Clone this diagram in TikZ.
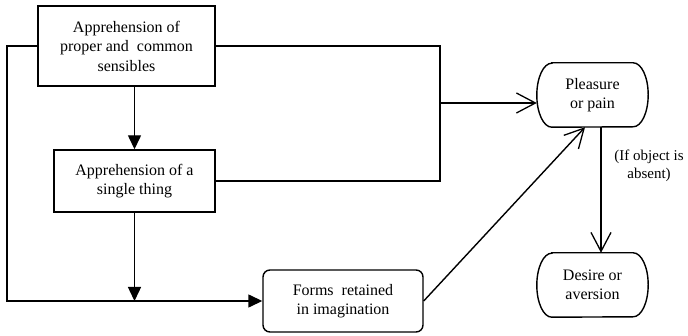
\documentclass[tikz,border=0pt]{standalone}
\usepackage{fontspec}
\setmainfont{Liberation Serif}
\usetikzlibrary{arrows.meta}
\begin{document}
\begin{tikzpicture}[x=1pt,y=-1pt,
  ln/.style={line width=1.4pt},
  box/.style={ln, draw, align=center, inner sep=0pt, font=\fontsize{16}{19.5}\selectfont},
  oval/.style={align=center, inner sep=0pt, minimum width=111pt, minimum height=64pt, font=\fontsize{16}{19.5}\selectfont},
  tri/.style={ln, -{Triangle[length=14pt,width=13pt]}},
  barb/.style={ln, -{Straight Barb[length=19pt,width=20pt,line width=1.3pt]}},
  lab/.style={align=center, inner sep=0pt, font=\fontsize{15}{18}\selectfont}]
\useasboundingbox (0,0) rectangle (688,336);
\node[box, minimum width=177pt, minimum height=80pt] (b1) at (126.5,46) {Apprehension of\\proper and \ common\\sensibles};
\node[box, minimum width=161pt, minimum height=62pt] (b2) at (134.5,181) {Apprehension of a\\single thing};
\node[box, rounded corners=7pt, minimum width=160pt, minimum height=62pt] (fr) at (343,301) {Forms \ retained\\in imagination};
\node[oval] (pp) at (592.5,95) {Pleasure\\or pain};
\node[oval] (da) at (592.5,285) {Desire or\\aversion};
\node[lab] (lb) at (649,166) {(If object is\\absent)};
\foreach \n in {pp,da}
  \draw[ln] ([xshift=15pt]\n.north west) -- ([xshift=-15pt]\n.north east)
    arc[start angle=90,end angle=-90,x radius=15pt,y radius=32pt]
    -- ([xshift=15pt]\n.south west)
    arc[start angle=270,end angle=90,x radius=15pt,y radius=32pt] -- cycle;
\coordinate (lc) at (7,301);
\coordinate (rc) at (440,103);
\draw[tri] (b1.west) -| (lc) -- (fr.west);
\draw[tri] (b2.north |- b1.south) -- (b2.north);
\draw[tri] (b2.south) -- (b2.south |- fr.west);
\draw[ln] (b1.east) -| (rc);
\draw[ln] (b2.east) -| (rc);
\draw[barb] (rc) -- (pp.west |- rc);
\draw[barb] (fr.east) -- ([xshift=-7.5pt]pp.south);
\draw[barb] ([xshift=8.5pt]pp.south) -- ([xshift=8.5pt]da.north);
\end{tikzpicture}
\end{document}
